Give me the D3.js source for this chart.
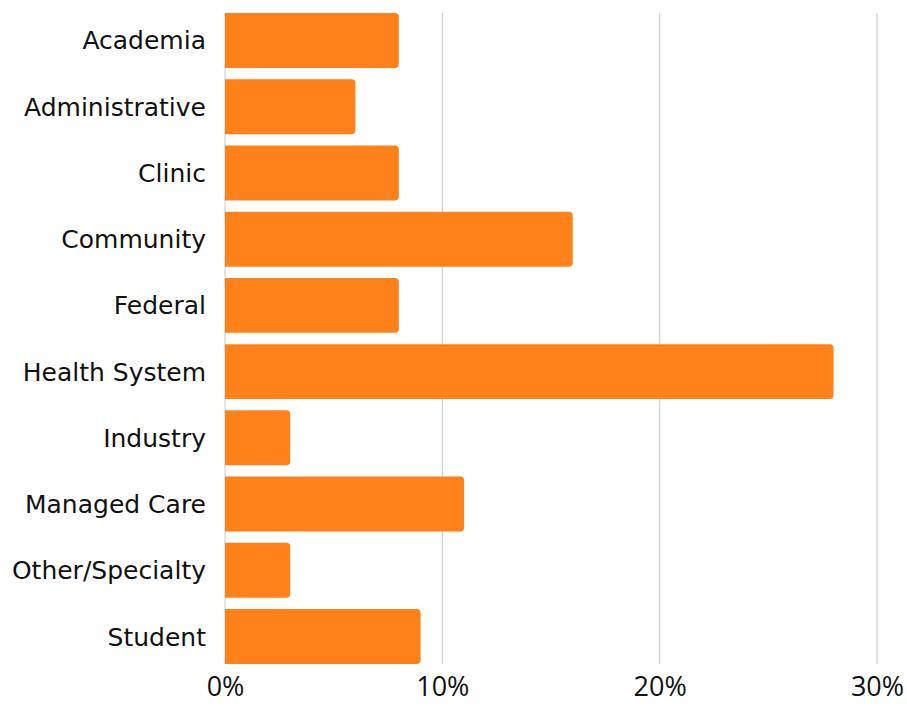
<!DOCTYPE html>
<html><head><meta charset="utf-8">
<script src="https://cdn.jsdelivr.net/npm/d3@7"></script>
<style>body{margin:0;background:#fff}</style>
</head><body>
<svg id="c" width="907" height="707"></svg>
<script>
const categories = ["Academia","Administrative","Clinic","Community","Federal","Health System","Industry","Managed Care","Other/Specialty","Student"];
const values = [8,6,8,16,8,28,3,11,3,9];
const tickValues = [0,10,20,30];

const svg = d3.select("#c");
const m = {left:225, top:13, bottom:664};
const x = d3.scaleLinear().domain([0,30]).range([m.left, 877]);
const y = d3.scaleBand().domain(categories).range([m.top, m.bottom]).paddingInner(0.17).paddingOuter(0);

// gridlines
svg.append("g").selectAll("line").data(tickValues).join("line")
  .attr("x1", d=>x(d)).attr("x2", d=>x(d))
  .attr("y1", m.top).attr("y2", m.bottom)
  .attr("stroke", "#d0d0d0").attr("stroke-width", 1.2);

const r = 4;
svg.append("g").selectAll("path").data(categories).join("path")
  .attr("fill", "#FF8119")
  .attr("d", (c,i) => {
    const x0 = x(0), x1 = x(values[i]), y0 = y(c), h = y.bandwidth();
    return `M${x0},${y0}H${x1-r}Q${x1},${y0} ${x1},${y0+r}V${y0+h-r}Q${x1},${y0+h} ${x1-r},${y0+h}H${x0}Z`;
  });

// category labels
svg.append("g").selectAll("text").data(categories).join("text")
  .attr("x", 206).attr("y", c => y(c) + y.bandwidth()/2)
  .attr("dy", "0.36em").attr("text-anchor", "end")
  .attr("font-family", "'DejaVu Sans', sans-serif").attr("font-size", 25).attr("fill", "#111")
  .text(d=>d);

// x tick labels
const xAxis = d3.axisBottom(x).tickValues(tickValues).tickFormat(d => d + "%").tickSize(0).tickPadding(0);
const gx = svg.append("g").attr("transform", `translate(0,${677})`).call(xAxis);
gx.select(".domain").remove();
gx.selectAll("text").attr("font-family", "'Open Sans', sans-serif").attr("font-size", 27).attr("fill", "#111").attr("dy", "0.71em");
</script>
</body></html>
